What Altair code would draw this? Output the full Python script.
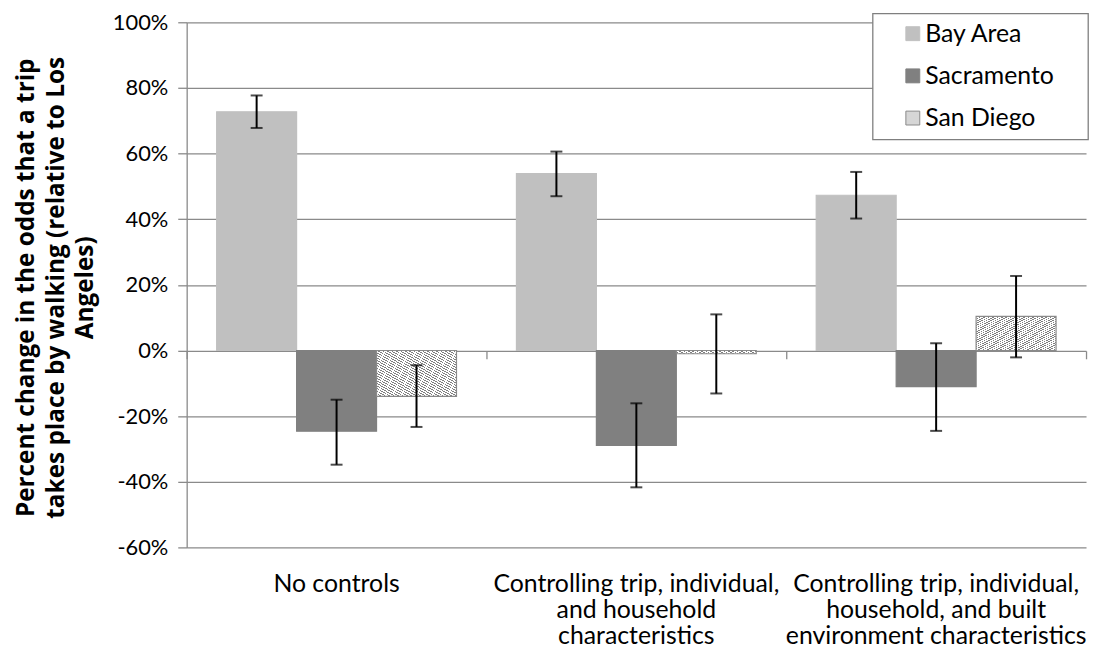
import altair as alt
import pandas as pd

# ---- data ----
categories = [
    "No controls",
    "Controlling trip, individual,|and household|characteristics",
    "Controlling trip, individual,|household, and built|environment characteristics",
]
cities = ["Bay Area", "Sacramento", "San Diego"]

bay = [0.727, 0.539, 0.473]
bay_lo = [0.678, 0.470, 0.402]
bay_hi = [0.777, 0.606, 0.544]

sac = [-0.246, -0.289, -0.110]
sac_lo = [-0.348, -0.417, -0.245]
sac_hi = [-0.150, -0.161, 0.022]

sd = [-0.140, -0.010, 0.104]
sd_lo = [-0.233, -0.131, -0.021]
sd_hi = [-0.045, 0.110, 0.227]

y_ticks = [-0.6, -0.4, -0.2, 0.0, 0.2, 0.4, 0.6, 0.8, 1.0]

rows = []
for city, v, lo, hi in [("Bay Area", bay, bay_lo, bay_hi),
                        ("Sacramento", sac, sac_lo, sac_hi),
                        ("San Diego", sd, sd_lo, sd_hi)]:
    for i, c in enumerate(categories):
        rows.append({"cat": c, "city": city, "value": v[i], "lo": lo[i], "hi": hi[i]})
df = pd.DataFrame(rows)
df_cat = pd.DataFrame({"cat": categories})

FONT = "Lato"
TITLE_FONT = "Open Sans"
GRID = "#8a8a8a"

# hatch fill (diagonal stripes) as a hard-stop linear gradient
N = 36
stops = []
for i in range(N):
    a = i / N
    b = (i + 0.35) / N
    c = (i + 1) / N
    stops += [
        {"offset": round(a, 5), "color": "#7f7f7f"},
        {"offset": round(b, 5), "color": "#7f7f7f"},
        {"offset": round(b, 5), "color": "#ffffff"},
        {"offset": round(c, 5), "color": "#ffffff"},
    ]
hatch = {"gradient": "linear", "x1": 0, "y1": 1, "x2": 1, "y2": 0, "stops": stops}

x_scale = alt.Scale(domain=categories, paddingInner=0.2, paddingOuter=0.1)
x_scale_full = alt.Scale(domain=categories, paddingInner=0, paddingOuter=0)
xoff_scale = alt.Scale(domain=cities, paddingInner=0, paddingOuter=0)
y_scale = alt.Scale(domain=[-0.6, 1.0], nice=False, zero=False)

y_axis = alt.Axis(
    values=y_ticks,
    labelExpr="round(datum.value*100) + '%'",
    labelFont=FONT, labelFontSize=22, labelColor="black", labelPadding=10,
    grid=True, gridColor=GRID, gridWidth=1.3,
    domain=True, domainColor=GRID, domainWidth=1.3,
    ticks=True, tickColor=GRID, tickSize=9, tickWidth=1.3,
    title=["Percent change in the odds that a trip",
           "takes place by walking (relative to Los",
           "Angeles)"],
    titleFont=TITLE_FONT, titleFontSize=24.5, titleFontWeight="bold", titleColor="black",
    titleAngle=270, titleAlign="center", titleBaseline="top",
    titleX=-173, titleY=267, titleLineHeight=29.5,
)

x_axis = alt.Axis(
    orient="bottom", title=None,
    labelExpr="split(datum.label, '|')",
    labelFont=FONT, labelFontSize=25, labelColor="black",
    labelLineHeight=26.5, labelBaseline="top", labelPadding=24,
    labelAngle=0, labelLimit=400,
    domain=False, ticks=False, tickSize=0, grid=False,
)

x_axis_zero = alt.Axis(
    orient="bottom", title=None, offset=-198,
    labels=False, domain=False, grid=False,
    ticks=True, tickBand="extent", tickSize=8, tickColor=GRID, tickWidth=1.3,
)

legend_pad = "datum.label + '" + "\u00a0" * 4 + "\u200b'"

sel_sd = alt.datum.city == "San Diego"

bars = alt.Chart(df).mark_bar(strokeWidth=1.2).encode(
    x=alt.X("cat:N", scale=x_scale, sort=categories, axis=x_axis),
    xOffset=alt.XOffset("city:N", scale=xoff_scale, sort=cities),
    y=alt.Y("value:Q", scale=y_scale, axis=y_axis),
    fill=alt.when(sel_sd).then(alt.value(hatch)).otherwise(
        alt.Fill("city:N", scale=alt.Scale(domain=cities,
                                           range=["#c0c0c0", "#808080", "#d6d6d6"]),
                 legend=alt.Legend(title=None, labelExpr=legend_pad))
    ),
    stroke=alt.Stroke("city:N", scale=alt.Scale(domain=cities,
                                                range=["#c0c0c0", "#808080", "#8a8a8a"]),
                      legend=alt.Legend(title=None, labelExpr=legend_pad)),
)

err = alt.Chart(df).mark_rule(color="black", strokeWidth=2).encode(
    x=alt.X("cat:N", scale=x_scale, sort=categories, axis=None),
    xOffset=alt.XOffset("city:N", scale=xoff_scale, sort=cities),
    y=alt.Y("lo:Q", scale=y_scale),
    y2="hi:Q",
)

caps = alt.Chart(df).transform_fold(["lo", "hi"], as_=["which", "v"]).mark_tick(
    color="black", thickness=2, size=12
).encode(
    x=alt.X("cat:N", scale=x_scale, sort=categories, axis=None),
    xOffset=alt.XOffset("city:N", scale=xoff_scale, sort=cities),
    y=alt.Y("v:Q", scale=y_scale),
)

zero_ticks = alt.Chart(df_cat).mark_point(opacity=0).encode(
    x=alt.X("cat:N", scale=x_scale_full, sort=categories, axis=x_axis_zero),
    y=alt.datum(0, scale=y_scale),
)

chart = alt.layer(bars, err, caps, zero_ticks).resolve_scale(
    x="independent", xOffset="independent"
).resolve_axis(x="independent").properties(
    width=906, height=529,
    autosize=alt.AutoSizeParams(type="none"),
    padding={"left": 180, "top": 12, "right": 4, "bottom": 103},
    background="white",
).configure_view(stroke=None).configure_legend(
    orient="none", legendX=691, legendY=-9,
    fillColor="white", strokeColor="#7f7f7f", strokeWidth=1.3,
    padding=8, symbolOffset=20, rowPadding=16.5,
    symbolType="square", symbolSize=196, symbolStrokeWidth=1,
    labelFont=FONT, labelFontSize=25, labelColor="black", labelOffset=0,
    labelLimit=340,
)

chart.save("out.html", embed_options={"renderer": "svg", "actions": False})
